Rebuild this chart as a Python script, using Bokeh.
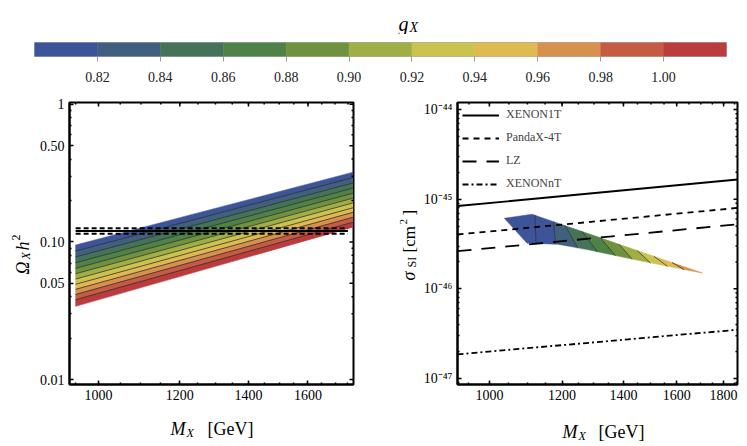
import numpy as np
from bokeh.plotting import figure
from bokeh.models import (FixedTicker, Label, Legend, LegendItem, Range1d,
                          CustomJSTickFormatter)
from bokeh.layouts import column, row
from bokeh.embed import file_html
from bokeh.resources import INLINE

# ---------------- data ----------------
g_edges = [0.80, 0.82, 0.84, 0.86, 0.88, 0.90, 0.92, 0.94, 0.96, 0.98, 1.00, 1.02]
g_colors = ["#3E5499", "#415F7F", "#467259", "#4E8246", "#6F923F", "#A0AE46",
            "#CBC34F", "#DFBA52", "#D6914F", "#C65B44", "#BB3C3C"]
cbar_ticks = [0.82, 0.84, 0.86, 0.88, 0.90, 0.92, 0.94, 0.96, 0.98, 1.00]

# relic density bands: boundary values (g = 0.80 ... 1.02) at the two masses
omega_mass = [950, 1770]
omega_at_low_mass = [0.0950, 0.0858, 0.0778, 0.0706, 0.0643, 0.0587, 0.0537,
                     0.0492, 0.0452, 0.0415, 0.0380, 0.0340]
omega_at_high_mass = [0.321, 0.293, 0.268, 0.246, 0.226, 0.208, 0.192,
                      0.177, 0.164, 0.151, 0.139, 0.128]
relic_mass = [950, 1750]
relic_central = 0.120
relic_upper = 0.1255
relic_lower = 0.1145

# direct-detection limits
limit_mass = [923, 1864]
xenon1t = [8.4e-46, 1.66e-45]
pandax4t = [4.04e-46, 8.0e-46]
lz = [2.63e-46, 5.25e-46]
xenonnt = [1.86e-47, 3.5e-47]

# allowed region in (M_X, sigma_SI)
region_top_mass = [1038, 1113, 1379, 1707]
region_top_sigma = [6.14e-46, 6.8e-46, 3.19e-46, 1.50e-46]
region_bottom_mass = [1038, 1099, 1186, 1289, 1400, 1525, 1707]
region_bottom_sigma = [6.14e-46, 3.23e-46, 3.15e-46, 2.70e-46, 2.25e-46, 1.88e-46, 1.50e-46]
contour_top_mass = [1121, 1175, 1210, 1262, 1321, 1384, 1449, 1511, 1582]
contour_bottom_mass = [1124, 1180, 1248, 1311, 1372, 1431, 1498, 1563, 1629]
strip_color_index = [0, 0, 1, 2, 3, 4, 5, 6, 7, 8]

# ticks
left_x_major = [1000, 1200, 1400, 1600]
left_x_minor = list(range(950, 1800, 50))
left_y_major = [0.01, 0.05, 0.1, 0.5, 1.0]
left_y_minor = [0.02, 0.03, 0.04, 0.06, 0.07, 0.08, 0.09, 0.2, 0.3, 0.4, 0.6, 0.7, 0.8, 0.9]
right_x_major = [1000, 1200, 1400, 1600, 1800]
right_x_minor = list(range(950, 1900, 50))
right_y_major = [1e-47, 1e-46, 1e-45, 1e-44]
right_y_minor = [k * 10.0 ** e for e in range(-48, -44) for k in range(2, 10)]

# ---------------- helpers ----------------
SERIF = "Liberation Serif"


def add_text(p, x, y, text, size, italic=False, angle=0.0):
    p.add_layout(Label(x=x, y=y, x_units="screen", y_units="screen", text=text,
                       text_font=SERIF, text_font_size=f"{size}px",
                       text_font_style="italic" if italic else "normal",
                       angle=angle, text_align="left", text_baseline="alphabetic",
                       text_color="black"))


def text_panel(width, height):
    """A blank figure whose frame fills it, used to hold composed axis titles."""
    f = figure(width=width, height=height, x_range=Range1d(0, 1), y_range=Range1d(0, 1),
               output_backend="svg", toolbar_location=None,
               x_axis_location=None, y_axis_location=None,
               min_border_left=0, min_border_right=0, min_border_top=0, min_border_bottom=0)
    f.outline_line_color = None
    f.xgrid.visible = False
    f.ygrid.visible = False
    return f


def style_frame(p, xmaj, xmin, ymaj, ymin, xfmt, yfmt):
    xa, ya = p.xaxis[0], p.yaxis[0]
    xa.ticker = FixedTicker(ticks=xmaj, minor_ticks=xmin)
    ya.ticker = FixedTicker(ticks=ymaj, minor_ticks=ymin)
    xa.formatter = xfmt
    ya.formatter = yfmt
    for ax in (xa, ya):
        ax.axis_line_width = 2
        ax.axis_line_color = "black"
        ax.major_tick_in = 4
        ax.major_tick_out = 0
        ax.minor_tick_in = 2
        ax.minor_tick_out = 0
        ax.major_tick_line_width = 1.5
        ax.minor_tick_line_width = 1.5
        ax.major_tick_line_color = "black"
        ax.minor_tick_line_color = "black"
        ax.major_label_text_font = SERIF
        ax.major_label_text_font_size = "14px"
        ax.major_label_text_color = "black"
    xa.major_label_standoff = 5
    ya.major_label_standoff = 5
    # mirrored ticks on the top and right frame edges (half of each dash is clipped)
    ytop, xright = p.y_range.end, p.x_range.end
    p.scatter(xmaj, [ytop] * len(xmaj), marker="dash", size=8, angle=np.pi / 2,
              line_color="black", line_width=1.5)
    p.scatter(xmin, [ytop] * len(xmin), marker="dash", size=4, angle=np.pi / 2,
              line_color="black", line_width=1.5)
    p.scatter([xright] * len(ymaj), ymaj, marker="dash", size=8,
              line_color="black", line_width=1.5)
    p.scatter([xright] * len(ymin), ymin, marker="dash", size=4,
              line_color="black", line_width=1.5)
    p.outline_line_color = "black"
    p.outline_line_width = 2
    p.xgrid.visible = False
    p.ygrid.visible = False


def interp_loglog(x, xs, ys):
    return 10 ** np.interp(np.log10(x), np.log10(xs), np.log10(ys))


# ---------------- colour bar ----------------
cb_title = text_panel(739, 34)
add_text(cb_title, 364, 11, "g", 20, italic=True)
add_text(cb_title, 375, 7, "X", 14, italic=True)

cb = figure(width=739, height=56, x_range=Range1d(0.80, 1.02), y_range=Range1d(0, 1),
            output_backend="svg", toolbar_location=None, y_axis_location=None,
            min_border_left=34, min_border_right=13, min_border_top=8, min_border_bottom=34)
cb.quad(left=g_edges[:-1], right=g_edges[1:], bottom=0, top=1,
        fill_color=g_colors, line_color=g_colors, line_width=0.5)
cb.xaxis.ticker = FixedTicker(ticks=cbar_ticks)
cb.xaxis.formatter = CustomJSTickFormatter(code="return tick.toFixed(2);")
cb.xaxis.axis_line_color = None
cb.xaxis.major_tick_out = 5
cb.xaxis.major_tick_in = 0
cb.xaxis.major_tick_line_color = "#9a9a9a"
cb.xaxis.minor_tick_line_color = None
cb.xaxis.major_label_text_font = SERIF
cb.xaxis.major_label_text_font_size = "14px"
cb.xaxis.major_label_text_color = "#222222"
cb.xaxis.major_label_standoff = 10
cb.xgrid.visible = False
cb.ygrid.visible = False
cb.outline_line_color = "#b0b0b0"
cb.outline_line_width = 1

# ---------------- left: relic density ----------------
pl = figure(width=344, height=320, x_axis_type="log", y_axis_type="log",
            x_range=Range1d(937, 1772), y_range=Range1d(0.0092, 1.03),
            output_backend="svg", toolbar_location=None,
            min_border_left=31, min_border_right=27, min_border_top=9, min_border_bottom=24)
band_xs, band_ys = [], []
for i in range(len(g_colors)):
    band_xs.append([omega_mass[0], omega_mass[1], omega_mass[1], omega_mass[0]])
    band_ys.append([omega_at_low_mass[i], omega_at_high_mass[i],
                    omega_at_high_mass[i + 1], omega_at_low_mass[i + 1]])
pl.patches(band_xs, band_ys, fill_color=g_colors, line_color=g_colors, line_width=0.5)
pl.multi_line([omega_mass] * 10,
              [[omega_at_low_mass[i], omega_at_high_mass[i]] for i in range(1, 11)],
              line_color="#2a2a2a", line_alpha=0.75, line_width=1)
pl.line(relic_mass, [relic_central] * 2, line_color="black", line_width=2)
pl.line(relic_mass, [relic_upper] * 2, line_color="black", line_width=2, line_dash="5 3")
pl.line(relic_mass, [relic_lower] * 2, line_color="black", line_width=2, line_dash="5 3")

style_frame(pl, left_x_major, left_x_minor, left_y_major, left_y_minor,
            CustomJSTickFormatter(code="return tick.toFixed(0);"),
            CustomJSTickFormatter(code="return tick >= 0.99 ? '1' : tick.toFixed(2);"))

ylab_left = text_panel(36, 320)
add_text(ylab_left, 22, 110, "\u03a9", 18, italic=True, angle=np.pi / 2)
add_text(ylab_left, 25, 125, "X", 12, italic=True, angle=np.pi / 2)
add_text(ylab_left, 22, 134, "h", 18, italic=True, angle=np.pi / 2)
add_text(ylab_left, 15, 144, "2", 12, angle=np.pi / 2)

# ---------------- right: direct detection ----------------
pr = figure(width=319, height=320, x_axis_type="log", y_axis_type="log",
            x_range=Range1d(923, 1864), y_range=Range1d(8.57e-48, 1.2e-44),
            output_backend="svg", toolbar_location=None,
            min_border_left=37, min_border_right=2, min_border_top=12, min_border_bottom=26)

# region strips
cuts_top = [None] + contour_top_mass + [None]
cuts_bot = [None] + contour_bottom_mass + [None]
strip_xs, strip_ys, strip_cols = [], [], []
for i in range(len(strip_color_index)):
    t0, t1 = cuts_top[i], cuts_top[i + 1]
    b0, b1 = cuts_bot[i], cuts_bot[i + 1]
    t0 = region_top_mass[0] if t0 is None else t0
    b0 = region_bottom_mass[0] if b0 is None else b0
    t1 = region_top_mass[-1] if t1 is None else t1
    b1 = region_bottom_mass[-1] if b1 is None else b1
    tx = [t0] + [m for m in region_top_mass if t0 < m < t1] + [t1]
    bx = [b0] + [m for m in region_bottom_mass if b0 < m < b1] + [b1]
    ty = [interp_loglog(m, region_top_mass, region_top_sigma) for m in tx]
    by = [interp_loglog(m, region_bottom_mass, region_bottom_sigma) for m in bx]
    strip_xs.append(tx + bx[::-1])
    strip_ys.append(ty + by[::-1])
    strip_cols.append(g_colors[strip_color_index[i]])
pr.patches(strip_xs, strip_ys, fill_color=strip_cols, line_color=strip_cols, line_width=0.5)
pr.multi_line([[t, b] for t, b in zip(contour_top_mass, contour_bottom_mass)],
              [[interp_loglog(t, region_top_mass, region_top_sigma),
                interp_loglog(b, region_bottom_mass, region_bottom_sigma)]
               for t, b in zip(contour_top_mass, contour_bottom_mass)],
              line_color="#2a2a2a", line_alpha=0.7, line_width=1)

r1 = pr.line(limit_mass, xenon1t, line_color="black", line_width=1.8)
r2 = pr.line(limit_mass, pandax4t, line_color="black", line_width=1.8, line_dash="6 5")
r3 = pr.line(limit_mass, lz, line_color="black", line_width=1.8, line_dash="14 10")
r4 = pr.line(limit_mass, xenonnt, line_color="black", line_width=1.8, line_dash="6 3 2 3")

legend = Legend(items=[LegendItem(label="XENON1T", renderers=[r1]),
                       LegendItem(label="PandaX-4T", renderers=[r2]),
                       LegendItem(label="LZ", renderers=[r3]),
                       LegendItem(label="XENONnT", renderers=[r4])],
                location="top_left", label_text_font=SERIF, label_text_font_size="12px",
                glyph_width=37, glyph_height=14, label_height=14, spacing=8,
                padding=4, margin=5, label_standoff=7,
                border_line_color=None, background_fill_alpha=0)
pr.add_layout(legend)

style_frame(pr, right_x_major, right_x_minor, right_y_major, right_y_minor,
            CustomJSTickFormatter(code="return tick.toFixed(0);"),
            CustomJSTickFormatter(code="""
                const e = Math.round(Math.log10(tick));
                const sup = {"-": "\\u207b", "0": "\\u2070", "1": "\\u00b9", "2": "\\u00b2",
                             "3": "\\u00b3", "4": "\\u2074", "5": "\\u2075", "6": "\\u2076",
                             "7": "\\u2077", "8": "\\u2078", "9": "\\u2079"};
                return "10" + String(e).split("").map(c => sup[c]).join("");
            """))

ylab_right = text_panel(40, 320)
add_text(ylab_right, 28, 104, "\u03c3", 18, italic=True, angle=np.pi / 2)
add_text(ylab_right, 31, 117, "SI", 12, angle=np.pi / 2)
add_text(ylab_right, 29, 132, "[cm", 17, angle=np.pi / 2)
add_text(ylab_right, 23, 160, "2", 11, angle=np.pi / 2)
add_text(ylab_right, 29, 169, "]", 17, angle=np.pi / 2)

# ---------------- x-axis titles ----------------
xlab_left = text_panel(380, 34)
add_text(xlab_left, 170, 16, "M", 18, italic=True)
add_text(xlab_left, 186, 12, "X", 12, italic=True)
add_text(xlab_left, 207, 16, "[GeV]", 18)

xlab_right = text_panel(359, 34)
add_text(xlab_right, 182, 13, "M", 18, italic=True)
add_text(xlab_right, 198, 9, "X", 12, italic=True)
add_text(xlab_right, 218, 13, "[GeV]", 18)

layout = column(cb_title, cb,
                row(ylab_left, pl, ylab_right, pr),
                row(xlab_left, xlab_right))
open("out.html", "w").write(file_html(layout, INLINE))
